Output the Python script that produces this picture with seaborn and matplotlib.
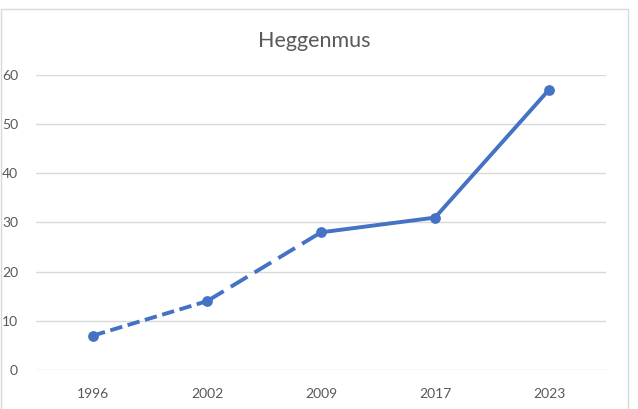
import matplotlib
matplotlib.use("Agg")
import matplotlib.pyplot as plt
import seaborn as sns
import numpy as np
from matplotlib.patches import Rectangle

# Data
years = ["1996", "2002", "2009", "2017", "2023"]
values = [7, 14, 28, 31, 57]
title = "Heggenmus"

blue = "#4472C4"
grey_text = "#595959"
grid_col = "#D9D9D9"

sns.set_theme(style="white")
plt.rcParams["font.family"] = ["Lato", "DejaVu Sans"]
plt.rcParams["lines.scale_dashes"] = False

fig = plt.figure(figsize=(6.38, 4.09), dpi=100)
ax = fig.add_axes([36 / 638, 39 / 409, 570 / 638, (370 - 75) / 409])

x = np.arange(len(years))

# segment styles: short dash, long dash, solid
segments = [
    (0, 2, (0, (9, 4))),
    (1, 3, (0, (14, 6))),
    (2, 5, "-"),
]
for start, stop, ls in segments:
    sns.lineplot(x=x[start:stop], y=values[start:stop], ax=ax, color=blue,
                 linewidth=2.8, linestyle=ls, dash_capstyle="butt",
                 solid_capstyle="round", solid_joinstyle="round")

sns.scatterplot(x=x, y=values, ax=ax, color=blue, s=60, linewidth=0, zorder=5)

ax.set_xlim(-0.5, len(years) - 0.5)
ax.set_ylim(0, 60)
ax.set_yticks(range(0, 61, 10))
ax.set_xticks(x)
ax.set_xticklabels(years)
ax.yaxis.grid(True, color=grid_col, linewidth=1)
ax.set_axisbelow(True)
for s in ax.spines.values():
    s.set_visible(False)
ax.tick_params(axis="both", length=0, labelsize=10, colors=grey_text)
ax.tick_params(axis="x", pad=13)
ax.tick_params(axis="y", pad=13)
ax.set_xlabel("")
ax.set_ylabel("")

fig.text(314 / 638, 1 - 41 / 409, title, ha="center", va="center",
         fontsize=15.5, color=grey_text)

# chart area border
fig.patches.append(Rectangle((0.5 / 638, -0.01), 627.5 / 638, 1 - 9 / 409 + 0.01,
                             transform=fig.transFigure, fill=False,
                             edgecolor=grid_col, linewidth=1))

fig.savefig("out.png", dpi=100, facecolor="white")
